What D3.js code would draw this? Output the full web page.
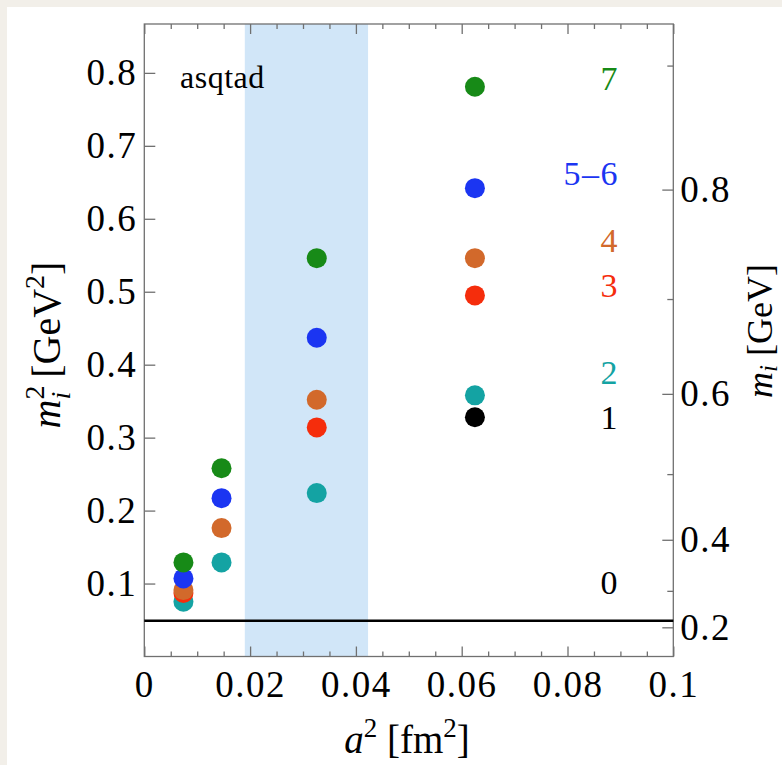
<!DOCTYPE html>
<html>
<head>
<meta charset="utf-8">
<script src="https://cdn.jsdelivr.net/npm/d3@7"></script>
<style>
  html, body { margin: 0; padding: 0; background: #f2efe9; }
  svg { display: block; }
  text { font-family: "Liberation Serif", "DejaVu Serif", serif; }
</style>
</head>
<body>
<svg id="chart" width="782" height="765"></svg>
<script>
// Squared taste-multiplet masses (GeV^2) vs. lattice spacing squared (fm^2), asqtad ensembles
const spacings = [0.0074, 0.0146, 0.0326, 0.0625];

// one entry per taste multiplet, listed in drawing order (lowest first)
const multiplets = ["1", "2", "3", "4", "5-6", "7"];
const values = {
  "1":   [null, null, null, 0.328],
  "2":   [0.075, 0.129, 0.224, 0.358],
  "3":   [0.087, null, 0.314, 0.495],
  "4":   [0.091, 0.176, 0.352, 0.546],
  "5-6": [0.107, 0.217, 0.437, 0.642],
  "7":   [0.129, 0.258, 0.546, 0.781]
};
const colors = {
  "0": "#000000", "1": "#000000", "2": "#14a3a3", "3": "#f52d0c",
  "4": "#d2692b", "5-6": "#1b35f2", "7": "#178a17"
};

// multiplet labels at the right, anchored at m^2 values
const labelText = ["7", "5\u20136", "4", "3", "2", "1", "0"];
const labelKey  = ["7", "5-6", "4", "3", "2", "1", "0"];
const labelM2   = [0.792, 0.6615, 0.570, 0.509, 0.389, 0.328, 0.1008];

// continuum reference level (m^2) and shaded a^2 window
const refLevel = 0.049;
const band = [0.019, 0.0423];

const xTicks = [0, 0.02, 0.04, 0.06, 0.08, 0.1];
const xTickLabels = ["0", "0.02", "0.04", "0.06", "0.08", "0.1"];
const yTicks = [0.1, 0.2, 0.3, 0.4, 0.5, 0.6, 0.7, 0.8];
const mTicks = [0.2, 0.4, 0.6, 0.8];
const mMinor = [0.3, 0.5, 0.7, 0.9];

const svg = d3.select("#chart");
svg.append("rect").attr("x", 7).attr("y", 7).attr("width", 775).attr("height", 758).attr("fill", "#ffffff");

const L = 144.3, T = 24, R = 673.3, B = 656.5;
const x = d3.scaleLinear().domain([0, 0.1]).range([L, R]);
const y = d3.scaleLinear().domain([0, 0.867]).range([B, T]);

// shaded window
svg.append("rect")
  .attr("x", x(band[0])).attr("y", T)
  .attr("width", x(band[1]) - x(band[0])).attr("height", B - T)
  .attr("fill", "#d1e6f8");

const axisColor = "#707070";
const tickFont = 37;

function styleAxis(g) {
  g.select(".domain").remove();
  g.selectAll("line").attr("stroke", axisColor).attr("stroke-width", 1.3);
  g.selectAll("text").attr("font-size", tickFont).attr("letter-spacing", 1.5)
    .attr("font-family", "Liberation Serif").attr("fill", "#000");
}

// bottom axis with minor ticks
const xMinor = d3.range(0, 0.1001, 0.005).filter(v => Math.abs(v / 0.02 - Math.round(v / 0.02)) > 1e-6);
svg.append("g").attr("transform", `translate(0,${B})`)
  .call(d3.axisBottom(x).tickValues(xTicks).tickFormat((d, i) => xTickLabels[i]).tickSize(-10).tickPadding(14))
  .call(styleAxis);
svg.append("g").attr("transform", `translate(0,${B})`)
  .call(d3.axisBottom(x).tickValues(xMinor).tickFormat("").tickSize(-5))
  .call(styleAxis);
// top axis
svg.append("g").attr("transform", `translate(0,${T})`)
  .call(d3.axisTop(x).tickValues(xTicks).tickFormat("").tickSize(-10))
  .call(styleAxis);
svg.append("g").attr("transform", `translate(0,${T})`)
  .call(d3.axisTop(x).tickValues(xMinor).tickFormat("").tickSize(-5))
  .call(styleAxis);

// left axis: m^2
svg.append("g").attr("transform", `translate(${L},0)`)
  .call(d3.axisLeft(y).tickValues(yTicks).tickFormat(d3.format(".1f")).tickSize(-11).tickPadding(7))
  .call(styleAxis);

// right axis: m = sqrt(m^2), ticks placed at m^2 positions
svg.append("g").attr("transform", `translate(${R},0)`)
  .call(d3.axisRight(y).tickValues(mTicks.map(v => v * v)).tickFormat((d, i) => d3.format(".1f")(mTicks[i])).tickSize(-11).tickPadding(7))
  .call(styleAxis);
svg.append("g").attr("transform", `translate(${R},0)`)
  .call(d3.axisRight(y).tickValues(mMinor.map(v => v * v)).tickFormat("").tickSize(-6))
  .call(styleAxis);

// frame
svg.append("rect").attr("x", L).attr("y", T).attr("width", R - L).attr("height", B - T)
  .attr("fill", "none").attr("stroke", axisColor).attr("stroke-width", 1.3);

// reference level
svg.append("line").attr("x1", L).attr("x2", R).attr("y1", y(refLevel)).attr("y2", y(refLevel))
  .attr("stroke", "#000").attr("stroke-width", 2.4);

// points
const pts = [];
multiplets.forEach(k => values[k].forEach((v, i) => { if (v != null) pts.push({ k, a2: spacings[i], v }); }));
svg.append("g").selectAll("circle").data(pts).join("circle")
  .attr("cx", d => x(d.a2)).attr("cy", d => y(d.v)).attr("r", 10)
  .attr("fill", d => colors[d.k]);

// multiplet labels
svg.append("g").selectAll("text").data(labelText).join("text")
  .attr("x", 619).attr("y", (d, i) => y(labelM2[i]) + 11.5)
  .attr("text-anchor", "end").attr("font-size", 34).attr("letter-spacing", 1.5)
  .attr("fill", (d, i) => colors[labelKey[i]]).text(d => d);

// ensemble tag
svg.append("text").attr("x", 180).attr("y", 88).attr("font-size", 32).attr("letter-spacing", 0.5)
  .attr("fill", "#000").text("asqtad");

// axis titles
const xt = svg.append("text").attr("x", 407).attr("y", 753).attr("text-anchor", "middle").attr("font-size", 39).attr("fill", "#000");
xt.append("tspan").attr("font-style", "italic").text("a");
xt.append("tspan").attr("font-size", 27).attr("dy", -16).text("2");
xt.append("tspan").attr("dy", 16).text(" [fm");
xt.append("tspan").attr("font-size", 27).attr("dy", -16).text("2");
xt.append("tspan").attr("dy", 16).text("]");

const lt = svg.append("text").attr("transform", "translate(60,345) rotate(-90)").attr("text-anchor", "middle").attr("font-size", 40).attr("fill", "#000");
lt.append("tspan").attr("font-style", "italic").text("m");
lt.append("tspan").attr("font-size", 28).attr("dy", -16).text("2");
lt.append("tspan").attr("font-size", 28).attr("font-style", "italic").attr("dx", -14).attr("dy", 26).text("i");
lt.append("tspan").attr("dy", -10).attr("dx", 4).text(" [GeV");
lt.append("tspan").attr("font-size", 28).attr("dy", -16).text("2");
lt.append("tspan").attr("dy", 16).text("]");

const rt = svg.append("text").attr("transform", "translate(772,331) rotate(-90)").attr("text-anchor", "middle").attr("font-size", 36).attr("fill", "#000");
rt.append("tspan").attr("font-style", "italic").text("m");
rt.append("tspan").attr("font-size", 25).attr("font-style", "italic").attr("dy", 5).text("i");
rt.append("tspan").attr("dy", -5).text(" [GeV]");
</script>
</body>
</html>
